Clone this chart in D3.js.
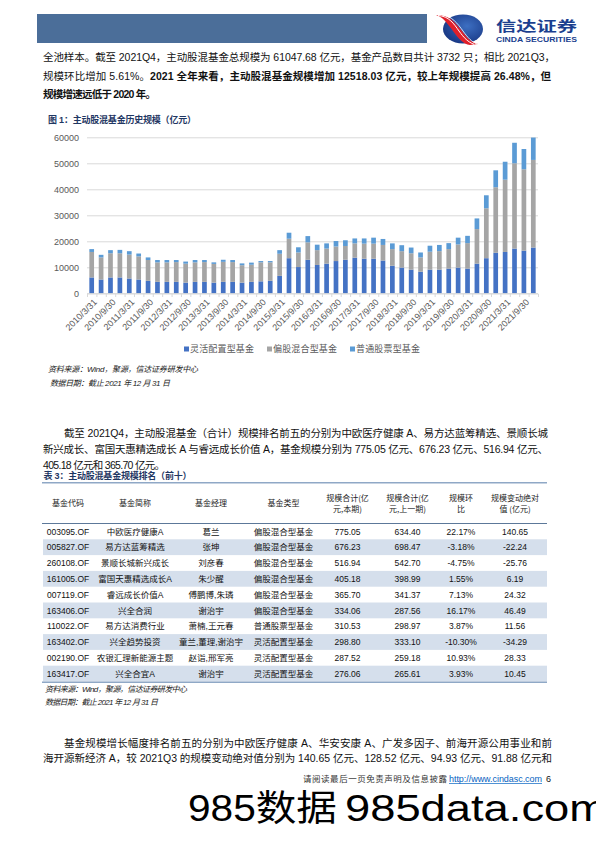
<!DOCTYPE html>
<html><head><meta charset="utf-8">
<script src="https://cdn.jsdelivr.net/npm/d3@7"></script>
<style>
html,body{margin:0;padding:0;background:#fff;}
svg{display:block;}
</style></head>
<body>
<script>
// ---------- DATA ----------
const quarters = [
 "2010/3/31","2010/6/30","2010/9/30","2010/12/31",
 "2011/3/31","2011/6/30","2011/9/30","2011/12/31",
 "2012/3/31","2012/6/30","2012/9/30","2012/12/31",
 "2013/3/31","2013/6/30","2013/9/30","2013/12/31",
 "2014/3/31","2014/6/30","2014/9/30","2014/12/31",
 "2015/3/31","2015/6/30","2015/9/30","2015/12/31",
 "2016/3/31","2016/6/30","2016/9/30","2016/12/31",
 "2017/3/31","2017/6/30","2017/9/30","2017/12/31",
 "2018/3/31","2018/6/30","2018/9/30","2018/12/31",
 "2019/3/31","2019/6/30","2019/9/30","2019/12/31",
 "2020/3/31","2020/6/30","2020/9/30","2020/12/31",
 "2021/3/31","2021/6/30","2021/9/30","2021/12/31"];
const flexible = [6100,5300,6100,6100,5700,5300,4800,4400,4400,4400,4100,4400,4400,4100,4400,4400,4100,4400,4600,4800,6700,13500,10100,12900,10900,11400,12400,12900,13700,13300,13300,12600,10600,9900,9100,8300,9100,9100,9500,9900,9500,11400,13500,15600,15900,17200,16400,17600];
const partialEquity = [9800,8500,9300,9300,9200,8900,8000,7500,7500,7600,7300,7500,7600,7200,7700,7600,6700,6600,7300,7100,8500,7500,5600,6700,5700,5800,5600,5300,5500,5800,5800,6000,6400,6300,6300,5500,6900,7100,7500,8900,9800,13300,19200,25200,27800,32800,31300,33700];
const ordinaryStock = [1100,1000,1200,1300,1300,1100,1000,900,900,800,800,900,800,600,800,800,700,800,500,500,1400,2300,2000,2400,2100,2000,2100,2200,1900,2000,2300,2300,2200,2300,2200,1900,2300,2400,2300,2600,2800,4100,5000,6500,6900,7900,7800,8600];
const seriesNames = ["灵活配置型基金","偏股混合型基金","普通股票型基金"];
const yTicks = [0,10000,20000,30000,40000,50000,60000];

// table data
const tHeaders = [["基金代码"],["基金简称"],["基金经理"],["基金类型"],["规模合计(亿","元,本期)"],["规模合计(亿","元,上一期)"],["规模环","比"],["规模变动绝对","值 (亿元)"]];
const tCodes = ["003095.OF","005827.OF","260108.OF","161005.OF","007119.OF","163406.OF","110022.OF","163402.OF","002190.OF","163417.OF"];
const tNames = ["中欧医疗健康A","易方达蓝筹精选","景顺长城新兴成长","富国天惠精选成长A","睿远成长价值A","兴全合润","易方达消费行业","兴全趋势投资","农银汇理新能源主题","兴全合宜A"];
const tManagers = ["葛兰","张坤","刘彦春","朱少醒","傅鹏博,朱璘","谢治宇","萧楠,王元春","童兰,董理,谢治宇","赵诣,邢军亮","谢治宇"];
const tTypes = ["偏股混合型基金","偏股混合型基金","偏股混合型基金","偏股混合型基金","偏股混合型基金","偏股混合型基金","普通股票型基金","灵活配置型基金","灵活配置型基金","灵活配置型基金"];
const tCurrent = ["775.05","676.23","516.94","405.18","365.70","334.06","310.53","298.80","287.52","276.06"];
const tPrevious = ["634.40","698.47","542.70","398.99","341.37","287.56","298.97","333.10","259.18","265.61"];
const tRatio = ["22.17%","-3.18%","-4.75%","1.55%","7.13%","16.17%","3.87%","-10.30%","10.93%","3.93%"];
const tChange = ["140.65","-22.24","-25.76","6.19","24.32","46.49","11.56","-34.29","28.33","10.45"];

// ---------- PAGE ----------
const W = 596, H = 842;
const FONT = "'Liberation Sans', Arial, 'Noto Sans CJK SC', sans-serif";
const svg = d3.select("body").append("svg").attr("width", W).attr("height", H)
  .style("font-family", FONT);
svg.append("rect").attr("width", W).attr("height", H).attr("fill", "#fff");

// header bar
svg.append("rect").attr("x", 37).attr("y", 14).attr("width", 390).attr("height", 29).attr("fill", "#4B6E99");

// logo
const defs = svg.append("defs");
const lg = defs.append("radialGradient").attr("id", "logoBlue").attr("cx", "60%").attr("cy", "40%").attr("r", "70%");
lg.append("stop").attr("offset", "0%").attr("stop-color", "#3D6FC2");
lg.append("stop").attr("offset", "100%").attr("stop-color", "#15337F");
const logo = svg.append("g");
logo.append("ellipse").attr("cx", 463).attr("cy", 29).attr("rx", 20).attr("ry", 14.5).attr("fill", "url(#logoBlue)");
logo.append("path").attr("d", "M436,15 C448,14 455,22 462,31 C467,38 472,43 478,44 L470,45 C463,44 458,38 453,31 C447,23 443,17 436,15 Z").attr("fill", "#E0202A");
logo.append("path").attr("d", "M438,15.5 C449,16 454,24 459,31 C464,38 468,42 474,44.3").attr("fill", "none").attr("stroke", "#fff").attr("stroke-width", 1);
logo.append("path").attr("d", "M442,15 C452,16 458,24 463,31 C468,38 472,42 477,44").attr("fill", "none").attr("stroke", "#fff").attr("stroke-width", 0.8);
svg.append("text").attr("x", 496).attr("y", 31).attr("font-size", 14).attr("font-weight", "bold")
  .attr("fill", "#1B3F8F").attr("font-family", "'Noto Sans CJK SC', sans-serif")
  .attr("textLength", 81).attr("lengthAdjust", "spacingAndGlyphs").text("信达证券");
svg.append("text").attr("x", 496).attr("y", 41.5).attr("font-size", 7).attr("font-weight", "bold")
  .attr("fill", "#1B3F8F").attr("textLength", 81).attr("lengthAdjust", "spacingAndGlyphs").text("CINDA SECURITIES");

// text helper
function line(x, y, segs, opts = {}) {
  const t = svg.append("text").attr("x", x).attr("y", y)
    .attr("font-size", opts.size || 10.5).attr("fill", opts.fill || "#111");
  if (opts.len) t.attr("textLength", opts.len).attr("lengthAdjust", "spacing");
  if (opts.italic) t.attr("font-style", "italic");
  if (opts.bold) t.attr("font-weight", "bold");
  if (opts.anchor) t.attr("text-anchor", opts.anchor);
  segs.forEach(s => {
    const ts = t.append("tspan").text(typeof s === "string" ? s : s.t);
    if (s.b) ts.attr("font-weight", "bold");
  });
  return t;
}

// paragraph 1
line(43, 61, ["全池样本。截至 2021Q4，主动股混基金总规模为 61047.68 亿元，基金产品数目共计 3732 只；相比 2021Q3，"], {len: 512});
line(43, 79.5, ["规模环比增加 5.61%。", {t: "2021 全年来看，主动股混基金规模增加 12518.03 亿元，较上年规模提高 26.48%，但", b: true}], {len: 508});
line(43, 97.5, [{t: "规模增速远低于 2020 年。", b: true}], {len: 113});

// chart title
line(48, 122.5, ["图 1：主动股混基金历史规模（亿元）"], {size: 9, bold: true, fill: "#1F3763", len: 148});

// ---------- CHART ----------
const x = d3.scaleBand().domain(quarters).range([87, 538]).paddingInner(0.5).paddingOuter(0.25);
const y = d3.scaleLinear().domain([0, 60000]).range([293.3, 137.3]);
const chart = svg.append("g");

chart.selectAll("line.grid").data(yTicks).join("line")
  .attr("x1", 87).attr("x2", 538).attr("y1", d => y(d) + 0.5).attr("y2", d => y(d) + 0.5)
  .attr("stroke", "#D9D9D9").attr("stroke-width", 1);

const yAxis = d3.axisLeft(y).tickValues(yTicks).tickSize(0).tickPadding(0).tickFormat(d3.format("d"));
const ya = chart.append("g").attr("transform", "translate(79,0)").call(yAxis);
ya.select(".domain").remove();
ya.selectAll("text").attr("font-size", 9).attr("fill", "#595959").attr("font-family", FONT);

const rows = quarters.map((q, i) => ({q, a: flexible[i], b: partialEquity[i], c: ordinaryStock[i]}));
const stacked = d3.stack().keys(["a", "b", "c"])(rows);
const colors = ["#4472C4", "#A5A5A5", "#5B9BD5"];
chart.selectAll("g.series").data(stacked).join("g").attr("fill", (d, i) => colors[i])
  .selectAll("rect").data(d => d).join("rect")
  .attr("x", d => x(d.data.q)).attr("width", x.bandwidth())
  .attr("y", d => y(d[1])).attr("height", d => y(d[0]) - y(d[1]));

// x axis
const step = x.step();
const xa = chart.append("g");
xa.append("line").attr("x1", 87).attr("x2", 538).attr("y1", 293.8).attr("y2", 293.8).attr("stroke", "#D9D9D9");
xa.selectAll("line.tk").data(d3.range(49)).join("line")
  .attr("x1", i => 87 + i * step + 0.5).attr("x2", i => 87 + i * step + 0.5)
  .attr("y1", 293.8).attr("y2", 297).attr("stroke", "#D9D9D9");
xa.selectAll("text").data(quarters.filter((q, i) => i % 2 === 0)).join("text")
  .attr("transform", d => `translate(${x(d) + x.bandwidth() / 2 + 2},299) rotate(-45)`)
  .attr("text-anchor", "end").attr("dy", "0.6em").attr("font-size", 9).attr("fill", "#595959").text(d => d);

// legend
const legX = [184, 267, 350];
const leg = chart.selectAll("g.leg").data(seriesNames).join("g").attr("transform", (d, i) => `translate(${legX[i]},349)`);
leg.append("rect").attr("x", 0).attr("y", -2.5).attr("width", 5).attr("height", 5).attr("fill", (d, i) => colors[i]);
leg.append("text").attr("x", 6).attr("y", 3.2).attr("font-size", 9).attr("fill", "#595959")
  .attr("font-family", "'Noto Sans CJK SC', sans-serif").attr("textLength", 64).attr("lengthAdjust", "spacing").text(d => d);

// sources
line(48, 372, ["资料来源：Wind，聚源，信达证券研发中心"], {size: 8, italic: true, fill: "#222", len: 150});
line(50, 386, ["数据日期：截止 2021 年 12 月 31 日"], {size: 8, italic: true, fill: "#222", len: 120});

// paragraph 2
line(64, 437, ["截至 2021Q4，主动股混基金（合计）规模排名前五的分别为中欧医疗健康 A、易方达蓝筹精选、景顺长城"], {len: 484});
line(43, 453, ["新兴成长、富国天惠精选成长 A 与睿远成长价值 A，基金规模分别为 775.05 亿元、676.23 亿元、516.94 亿元、"], {len: 505});
line(43, 469, ["405.18 亿元和 365.70 亿元。"], {len: 122});

// table title
line(43.5, 479.3, ["表 3：主动股混基金规模排名（前十）"], {size: 9, bold: true, fill: "#1F3763", len: 148});

// ---------- TABLE ----------
const colX = [68, 135, 211, 283.5, 347.5, 407.5, 461, 515];
const tTop = 482.8, hBottom = 523.5, rowH = 15.8;
const table = svg.append("g");
d3.range(10).forEach(r => {
  if (r % 2 === 1) table.append("rect").attr("x", 43).attr("y", hBottom + r * rowH).attr("width", 504).attr("height", rowH).attr("fill", "#D5DFEC");
});
table.append("line").attr("x1", 42).attr("x2", 547).attr("y1", tTop).attr("y2", tTop).attr("stroke", "#8FA8C6").attr("stroke-width", 1.5);
table.append("line").attr("x1", 42).attr("x2", 547).attr("y1", hBottom).attr("y2", hBottom).attr("stroke", "#5C7899").attr("stroke-width", 1);
table.append("line").attr("x1", 42).attr("x2", 547).attr("y1", hBottom + 10 * rowH + 0.8).attr("y2", hBottom + 10 * rowH + 0.8).attr("stroke", "#8FA8C6").attr("stroke-width", 1.5);

tHeaders.forEach((h, i) => {
  const t = table.append("text").attr("text-anchor", "middle").attr("font-size", 8).attr("fill", "#222")
    .attr("font-family", "'Noto Sans CJK SC', sans-serif");
  if (h.length === 1) t.append("tspan").attr("x", colX[i]).attr("y", 506).text(h[0]);
  else {
    t.append("tspan").attr("x", colX[i]).attr("y", 501).text(h[0]);
    t.append("tspan").attr("x", colX[i]).attr("y", 512).text(h[1]);
  }
});
const cols = [tCodes, tNames, tManagers, tTypes, tCurrent, tPrevious, tRatio, tChange];
cols.forEach((col, ci) => {
  table.selectAll(null).data(col).join("text")
    .attr("x", colX[ci]).attr("y", (d, r) => hBottom + r * rowH + rowH / 2 + 3.2)
    .attr("text-anchor", "middle").attr("font-size", 8.5).attr("fill", "#111")
    .text(d => d);
});

line(45, 692, ["资料来源：Wind，聚源，信达证券研发中心"], {size: 8, italic: true, fill: "#222", len: 142});
line(45, 705, ["数据日期：截止 2021 年 12 月 31 日"], {size: 8, italic: true, fill: "#222", len: 113});

// paragraph 3
line(64, 747, ["基金规模增长幅度排名前五的分别为中欧医疗健康 A、华安安康 A、广发多因子、前海开源公用事业和前"], {len: 488});
line(43, 762, ["海开源新经济 A，较 2021Q3 的规模变动绝对值分别为 140.65 亿元、128.52 亿元、94.93 亿元、91.88 亿元和"], {len: 509});

// footer
line(303, 782, ["请阅读最后一页免责声明及信息披露"], {size: 8.5, fill: "#333", len: 144});
svg.append("text").attr("x", 449).attr("y", 782).attr("font-size", 9).attr("fill", "#0563C1")
  .attr("textLength", 93).attr("lengthAdjust", "spacing").text("http://www.cindasc.com");
svg.append("line").attr("x1", 449).attr("x2", 542).attr("y1", 783.5).attr("y2", 783.5).attr("stroke", "#0563C1").attr("stroke-width", 0.7);
svg.append("text").attr("x", 546).attr("y", 782).attr("font-size", 9).attr("fill", "#111").text("6");

// watermark
svg.append("text").attr("x", 188).attr("y", 821).attr("font-size", 36).attr("fill", "#000")
  .attr("textLength", 149).attr("lengthAdjust", "spacingAndGlyphs").text("985数据");
svg.append("text").attr("x", 345).attr("y", 821).attr("font-size", 36).attr("fill", "#000")
  .attr("textLength", 262).attr("lengthAdjust", "spacingAndGlyphs").text("985data.com");
</script>
</body></html>
